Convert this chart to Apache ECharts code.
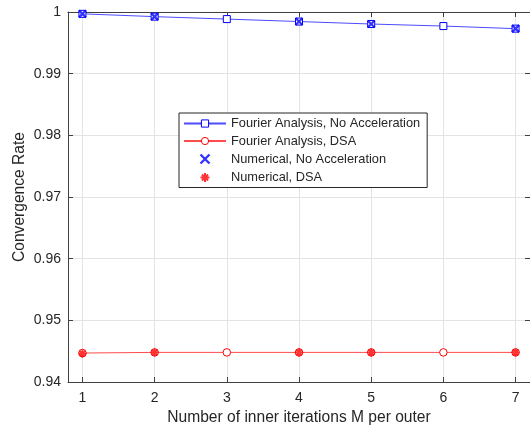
<!DOCTYPE html>
<html><head><meta charset="utf-8">
<script src="https://cdn.jsdelivr.net/npm/echarts@6/dist/echarts.min.js"></script>
<style>html,body{margin:0;padding:0;background:#fff}#c{width:530px;height:431px}</style>
</head><body><div id="c"></div>
<script>
const iterations = [1, 2, 3, 4, 5, 6, 7];
const fourierNoAccel = [0.9997, 0.99925, 0.99885, 0.99845, 0.99805, 0.99772, 0.9973];
const fourierDSA = [0.9447, 0.9448, 0.9448, 0.9448, 0.9448, 0.9448, 0.9448];
const numericalIters = [1, 2, 4, 5, 7];
const numericalNoAccel = [0.9997, 0.99925, 0.99845, 0.99805, 0.9973];
const numericalDSA = [0.9446, 0.9448, 0.9448, 0.9448, 0.9448];
const xTicks = [1, 2, 3, 4, 5, 6, 7];
const seriesNames = ['Fourier Analysis, No Acceleration', 'Fourier Analysis, DSA', 'Numerical, No Acceleration', 'Numerical, DSA'];

const X_PATH = 'path://M0,0L10,10M10,0L0,10';
const STAR_PATH = 'path://M5,0L5,10M0,5L10,5M1.6,1.6L8.4,8.4M8.4,1.6L1.6,8.4';
const txt = '#262626';
const ax = '#404040';
const grid = '#e3e3e3';
const FF = 'Liberation Sans, Arial, sans-serif';

const chart = echarts.init(document.getElementById('c'), null, {renderer: 'canvas'});
chart.setOption({
  animation: false,
  backgroundColor: '#fff',
  textStyle: {fontFamily: FF},
  grid: {left: 68, top: 12, width: 471, height: 370, containLabel: false},
  legend: {
    orient: 'vertical', left: 179, top: 113,
    backgroundColor: '#fff', borderColor: txt, borderWidth: 1, borderRadius: 0,
    padding: [4, 7, 3, 4], itemGap: 4.5, itemWidth: 42, itemHeight: 9,
    textStyle: {fontSize: 12.8, color: txt, fontFamily: FF},
    data: [
      {name: seriesNames[0], itemStyle: {borderWidth: 1}},
      {name: seriesNames[1], itemStyle: {borderWidth: 1}},
      {name: seriesNames[2], itemStyle: {borderWidth: 2.4}},
      {name: seriesNames[3], itemStyle: {borderWidth: 2}}
    ]
  },
  xAxis: [{
    type: 'value', min: 0.8, max: 7.2, position: 'bottom',
    name: 'Number of inner iterations M per outer', nameLocation: 'middle', nameGap: 28,
    nameMoveOverlap: false,
    nameTextStyle: {fontSize: 15.6, color: txt},
    axisLine: {show: true, onZero: false, lineStyle: {color: ax, width: 1}},
    axisTick: {show: true, inside: true, length: 5, customValues: xTicks, lineStyle: {color: ax}},
    axisLabel: {customValues: xTicks, fontSize: 14, color: txt, margin: 9},
    splitLine: {show: true, lineStyle: {color: grid, width: 1}}
  }, {
    type: 'value', min: 0.8, max: 7.2, position: 'top',
    axisLine: {show: true, onZero: false, lineStyle: {color: ax, width: 1}},
    axisTick: {show: true, inside: true, length: 5, customValues: xTicks, lineStyle: {color: ax}},
    axisLabel: {show: false},
    splitLine: {show: false}
  }],
  yAxis: [{
    type: 'value', min: 0.94, max: 1, interval: 0.01,
    name: 'Convergence Rate', nameLocation: 'middle', nameGap: 40,
    nameMoveOverlap: false,
    nameTextStyle: {fontSize: 15.6, color: txt},
    axisLine: {show: true, onZero: false, lineStyle: {color: ax, width: 1}},
    axisTick: {show: true, inside: true, length: 5, lineStyle: {color: ax}},
    axisLabel: {fontSize: 14, color: txt, margin: 7,
      formatter: v => (Math.abs(v - 1) < 1e-9 ? '1' : v.toFixed(2))},
    splitLine: {show: true, lineStyle: {color: grid, width: 1}}
  }, {
    type: 'value', min: 0.94, max: 1, interval: 0.01, position: 'right',
    axisLine: {show: true, onZero: false, lineStyle: {color: ax}},
    axisTick: {show: true, inside: true, length: 5},
    axisLabel: {show: false}, splitLine: {show: false}
  }],
  series: [{
    name: seriesNames[0], type: 'line',
    data: iterations.map((x, i) => [x, fourierNoAccel[i]]),
    symbol: 'rect', symbolSize: 7, showAllSymbol: true,
    lineStyle: {color: 'rgba(0,0,255,0.7)', width: 1},
    itemStyle: {color: '#fff', borderColor: '#0000ff', borderWidth: 1},
    z: 2
  }, {
    name: seriesNames[1], type: 'line',
    data: iterations.map((x, i) => [x, fourierDSA[i]]),
    symbol: 'circle', symbolSize: 7.5, showAllSymbol: true,
    lineStyle: {color: 'rgba(255,0,0,0.7)', width: 1},
    itemStyle: {color: '#fff', borderColor: '#ff0000', borderWidth: 1},
    z: 2
  }, {
    name: seriesNames[2], type: 'scatter',
    data: numericalIters.map((x, i) => [x, numericalNoAccel[i]]),
    symbol: X_PATH, symbolSize: 7,
    itemStyle: {color: 'none', borderColor: '#0000ff', borderWidth: 2.2},
    z: 3
  }, {
    name: seriesNames[3], type: 'scatter',
    data: numericalIters.map((x, i) => [x, numericalDSA[i]]),
    symbol: STAR_PATH, symbolSize: 8,
    itemStyle: {color: 'none', borderColor: '#ff0000', borderWidth: 1.8},
    z: 3
  }]
});
</script></body></html>
